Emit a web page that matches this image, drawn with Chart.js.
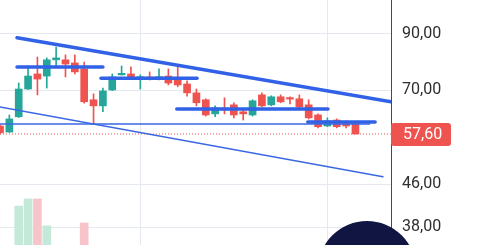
<!DOCTYPE html>
<html>
<head>
<meta charset="utf-8">
<script src="https://cdn.jsdelivr.net/npm/chart.js@4.4.1/dist/chart.umd.min.js"></script>
<style>
	html, body { margin: 0; padding: 0; background: #fff; overflow: hidden; }
	#wrap { position: relative; width: 488px; height: 245px; overflow: hidden; }
	#logo { position: absolute; left: 318px; top: 221px; width: 98px; height: 98px; border-radius: 50%; background: #111542; }
</style>
</head>
<body>
<div id="wrap">
	<canvas id="myChart" width="488" height="245"></canvas>
	<div id="logo"></div>
</div>
<script>
var opens = [59.7, 58.1, 62.2, 70.4, 75.3, 74.6, 80.2, 80.2, 79.1, 77.0, 67.1, 65.3, 70.1, 75.0, 75.3, 73.9, 74.3, 73.9, 74.6, 73.3,
	72.0, 69.2, 67.1, 63.0, 64.7, 65.6, 63.6, 62.7, 68.6, 65.6, 68.0, 67.5, 67.4, 65.6, 62.7, 59.7, 61.3, 60.5, 60.5]
var highs = [60.0, 62.7, 72.3, 78.0, 81.2, 80.9, 84.9, 82.0, 82.0, 79.4, 68.9, 70.7, 75.3, 78.0, 77.7, 75.0, 76.0, 77.0, 77.0, 77.7,
	73.0, 70.4, 67.4, 65.3, 67.7, 66.2, 64.1, 67.1, 69.2, 68.3, 68.6, 68.0, 68.6, 67.1, 63.0, 61.9, 61.6, 61.1, 60.7]
var lows = [57.6, 58.0, 62.0, 70.3, 68.6, 70.7, 77.7, 74.3, 75.3, 66.1, 60.2, 63.6, 69.9, 74.9, 73.4, 70.4, 73.3, 73.3, 71.7, 71.1,
	68.2, 65.3, 62.4, 62.2, 63.0, 61.9, 61.3, 62.4, 65.0, 65.3, 66.2, 65.9, 64.7, 61.6, 59.2, 59.5, 59.2, 59.2, 57.6]
var closes = [57.9, 61.6, 70.4, 74.6, 73.6, 80.2, 80.9, 78.7, 76.0, 66.5, 65.3, 69.8, 74.3, 75.3, 73.6, 74.0, 73.6, 74.0, 72.3, 71.7,
	69.2, 66.2, 62.7, 64.7, 64.1, 62.7, 63.0, 66.8, 65.3, 68.0, 66.5, 67.3, 65.0, 61.9, 59.5, 61.1, 59.5, 59.7, 57.6]
// only the volume bars that show above the bottom edge
var volumes = [null, null, 159, 188, 188, 78, null, null, null, 90]

var priceTicks = [38, 46, 70, 90]
var lastPrice = 57.6

// drawn lines: [x1, y1, x2, y2] in candle index / price
var trendTop = [1.82, 88.5, 41.8, 66.5]
var trendLow = [0, 65.0, 40.94, 47.6]
var levelLine = [0, 60.2, 39.5, 60.2]
var boxes = [
	[1.82, 77.7, 11.0, 77.7],
	[10.8, 73.85, 21.06, 73.85],
	[18.9, 64.4, 35.06, 64.4],
	[32.9, 60.75, 40.1, 60.75]
]

var green = '#26a69a'
var red = '#ef5350'

var bodyData = []
var wickData = []
var candleColors = []
var volData = []
var volColors = []
for (i = 0; i < opens.length; i++) {
	bodyData.push({ x: i, y: [opens[i], closes[i]] })
	wickData.push({ x: i, y: [lows[i], highs[i]] })
	candleColors.push(closes[i] >= opens[i] ? green : red)
	if (volumes[i] != undefined) {
		volData.push({ x: i, y: volumes[i] })
		volColors.push(closes[i] >= opens[i] ? '#c5e9d9' : '#f7c5c9')
	}
}

var segment = function(s) {
	return [{ x: s[0], y: s[1] }, { x: s[2], y: s[3] }]
}

var lineSet = function(s, width, color) {
	return {
		type: 'line',
		data: segment(s),
		borderColor: color,
		borderWidth: width,
		pointRadius: 0,
		borderCapStyle: 'round',
		yAxisID: 'y',
		order: 1
	}
}

var datasets = []
datasets.push({
	type: 'line',
	data: [{ x: 0, y: lastPrice }, { x: 41.8, y: lastPrice }],
	borderColor: red,
	borderWidth: 1,
	borderDash: [1, 2],
	pointRadius: 0,
	yAxisID: 'y',
	order: 6
})
datasets.push(lineSet(trendTop, 3.5, '#3161e6'))
datasets.push(lineSet(trendLow, 1.5, '#3a68e3'))
datasets.push(lineSet(levelLine, 1.5, '#3a68e3'))
boxes.forEach((b) => {
	datasets.push(lineSet(b, 3.5, '#3161e6'))
})
datasets.push({
	type: 'bar',
	data: bodyData,
	backgroundColor: candleColors,
	barThickness: 7,
	minBarLength: 1.5,
	grouped: false,
	yAxisID: 'y',
	order: 2
})
datasets.push({
	type: 'bar',
	data: wickData,
	backgroundColor: candleColors,
	barThickness: 1,
	grouped: false,
	yAxisID: 'y',
	order: 3
})
datasets.push({
	type: 'bar',
	data: volData,
	backgroundColor: volColors,
	barThickness: 8,
	grouped: false,
	yAxisID: 'yv',
	order: 7
})

var priceTag = {
	id: 'priceTag',
	afterDraw: function(chart) {
		var c = chart.ctx
		var y = chart.scales.y.getPixelForValue(lastPrice)
		var x = chart.chartArea.right
		c.save()
		c.fillStyle = red
		c.beginPath()
		c.roundRect(x, y - 11, 60, 23, 3)
		c.fill()
		c.fillStyle = '#fff'
		c.font = '16px Roboto'
		c.textBaseline = 'middle'
		c.fillText(lastPrice.toFixed(2).replace('.', ','), x + 12, y + 1)
		c.restore()
	}
}

var ctx = document.getElementById('myChart')
window.myChart = new Chart(ctx, {
	data: { datasets: datasets },
	plugins: [priceTag],
	options: {
		responsive: false,
		animation: false,
		layout: { padding: 0 },
		plugins: { legend: { display: false }, tooltip: { enabled: false } },
		scales: {
			x: {
				type: 'linear',
				offset: false,
				min: 0,
				max: 41.8,
				afterBuildTicks: (axis) => { axis.ticks = [{ value: 15 }, { value: 35 }] },
				afterFit: (axis) => {
					axis.height = 0
					axis.paddingLeft = 0
					axis.paddingRight = 0
				},
				ticks: { display: false },
				grid: { color: '#e3e9ef', drawTicks: false, offset: false },
				border: { display: false }
			},
			y: {
				type: 'logarithmic',
				position: 'right',
				min: 35.09,
				max: 104.75,
				afterBuildTicks: (axis) => { axis.ticks = priceTicks.map((v) => ({ value: v })) },
				afterFit: (axis) => {
					axis.width = 97
					axis.paddingTop = 0
					axis.paddingBottom = 0
				},
				ticks: {
					padding: 11,
					color: '#2e2e2e',
					font: { family: 'Roboto', size: 16 },
					callback: (v) => v.toFixed(2).replace('.', ',')
				},
				grid: { color: '#e3e9ef', drawTicks: false },
				border: { color: '#4a4a4a', width: 1 }
			},
			yv: {
				type: 'linear',
				display: false,
				min: 0,
				max: 1000
			}
		}
	}
})
</script>
</body>
</html>
